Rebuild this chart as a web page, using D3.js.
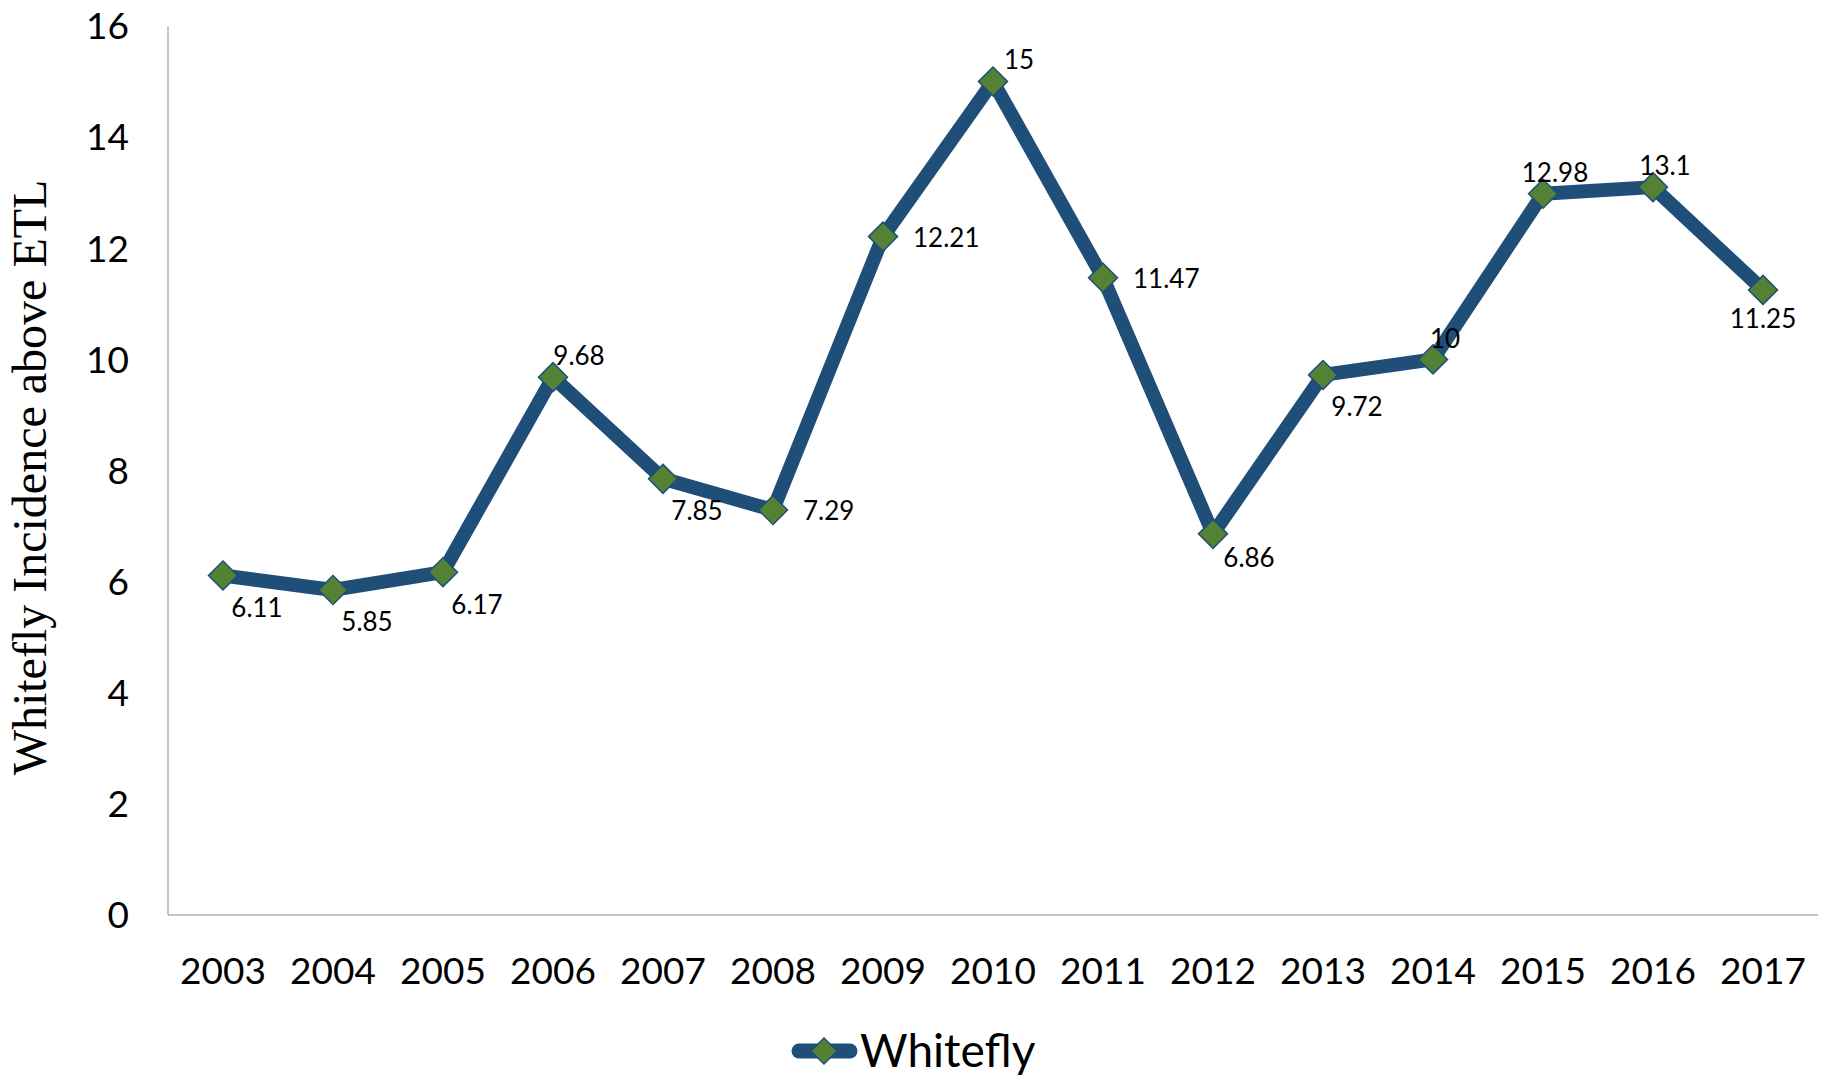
<!DOCTYPE html>
<html>
<head>
<meta charset="utf-8">
<script src="https://cdn.jsdelivr.net/npm/d3@7/dist/d3.min.js"></script>
<style>
  body { margin: 0; background: #fff; }
  text { font-family: Lato, "Open Sans", sans-serif; fill: #000; }
</style>
</head>
<body>
<div id="container"></div>
<script>
// data
const years = ["2003","2004","2005","2006","2007","2008","2009","2010","2011","2012","2013","2014","2015","2016","2017"];
const whitefly = [6.11, 5.85, 6.17, 9.68, 7.85, 7.29, 12.21, 15, 11.47, 6.86, 9.72, 10, 12.98, 13.1, 11.25];
const yTicks = [0, 2, 4, 6, 8, 10, 12, 14, 16];
const seriesName = "Whitefly";
const yTitle = "Whitefly Incidence above ETL";

// where each data label sits relative to its point
const labelPlace = ["br","br","br","ar","br","r","r","ar","r","bs","br","a","a","a","b"];
const placeOffsets = {
  br: [34, 32, "middle"],
  bs: [36, 24, "middle"],
  ar: [26, -22, "middle"],
  r:  [30, 1, "start"],
  a:  [12, -21, "middle"],
  b:  [0, 29, "middle"]
};

const width = 1825, height = 1076;
const plotL = 168, plotR = 1818, plotT = 26, plotB = 915;

const svg = d3.select("#container")
  .append("svg")
  .attr("width", width)
  .attr("height", height);

const x = d3.scaleBand()
  .domain(years)
  .range([plotL, plotR]);

const y = d3.scaleLinear()
  .domain([0, 16])
  .range([plotB, plotT]);

// axes lines
svg.append("line")
  .attr("x1", plotL).attr("x2", plotL)
  .attr("y1", plotT).attr("y2", plotB)
  .attr("stroke", "#b5b5b5").attr("stroke-width", 1.5);

svg.append("line")
  .attr("x1", plotL).attr("x2", plotR)
  .attr("y1", plotB).attr("y2", plotB)
  .attr("stroke", "#b5b5b5").attr("stroke-width", 1.5);

// y tick labels
svg.selectAll(".ytick")
  .data(yTicks)
  .enter()
  .append("text")
  .attr("class", "ytick")
  .attr("x", 129)
  .attr("y", d => y(d))
  .attr("dy", "0.36em")
  .attr("text-anchor", "end")
  .style("font-size", "37px")
  .text(d => d);

// x tick labels
svg.selectAll(".xtick")
  .data(years)
  .enter()
  .append("text")
  .attr("class", "xtick")
  .attr("x", d => x(d) + x.bandwidth() / 2)
  .attr("y", 984)
  .attr("text-anchor", "middle")
  .style("font-size", "37px")
  .text(d => d);

// y title
svg.append("text")
  .attr("transform", "translate(46," + ((plotT + plotB) / 2 + 7) + ") rotate(-90)")
  .attr("text-anchor", "middle")
  .style("font-family", "'Liberation Serif', 'Times New Roman', serif")
  .style("font-size", "48px")
  .text(yTitle);

const cx = (d, i) => x(years[i]) + x.bandwidth() / 2;

// line
const line = d3.line()
  .x((d, i) => cx(d, i))
  .y(d => y(d));

svg.append("path")
  .datum(whitefly)
  .attr("d", line)
  .attr("fill", "none")
  .attr("stroke", "#1f4e79")
  .attr("stroke-width", 14)
  .attr("stroke-linejoin", "round");

// markers
const diamond = d3.symbol().type(d3.symbolSquare).size(420);

svg.selectAll(".dot")
  .data(whitefly)
  .enter()
  .append("path")
  .attr("class", "dot")
  .attr("d", diamond)
  .attr("transform", (d, i) => "translate(" + cx(d, i) + "," + y(d) + ") rotate(45)")
  .attr("fill", "#548235")
  .attr("stroke", "#1f4e79")
  .attr("stroke-width", 1.5);

// data labels
svg.selectAll(".lbl")
  .data(whitefly)
  .enter()
  .append("text")
  .attr("class", "lbl")
  .attr("x", (d, i) => cx(d, i) + placeOffsets[labelPlace[i]][0])
  .attr("y", (d, i) => y(d) + placeOffsets[labelPlace[i]][1])
  .attr("dy", "0.36em")
  .attr("text-anchor", (d, i) => placeOffsets[labelPlace[i]][2])
  .style("font-size", "26px")
  .text(d => d);

// legend
const lg = svg.append("g").attr("transform", "translate(792,1051)");
lg.append("line")
  .attr("x1", 7).attr("x2", 58)
  .attr("y1", 0).attr("y2", 0)
  .attr("stroke", "#1f4e79")
  .attr("stroke-width", 15)
  .attr("stroke-linecap", "round");
lg.append("path")
  .attr("d", d3.symbol().type(d3.symbolSquare).size(340))
  .attr("transform", "translate(32,0) rotate(45)")
  .attr("fill", "#548235")
  .attr("stroke", "#1f4e79")
  .attr("stroke-width", 1.5);
lg.append("text")
  .attr("x", 68)
  .attr("y", 16)
  .style("font-size", "46px")
  .text(seriesName);
</script>
</body>
</html>
